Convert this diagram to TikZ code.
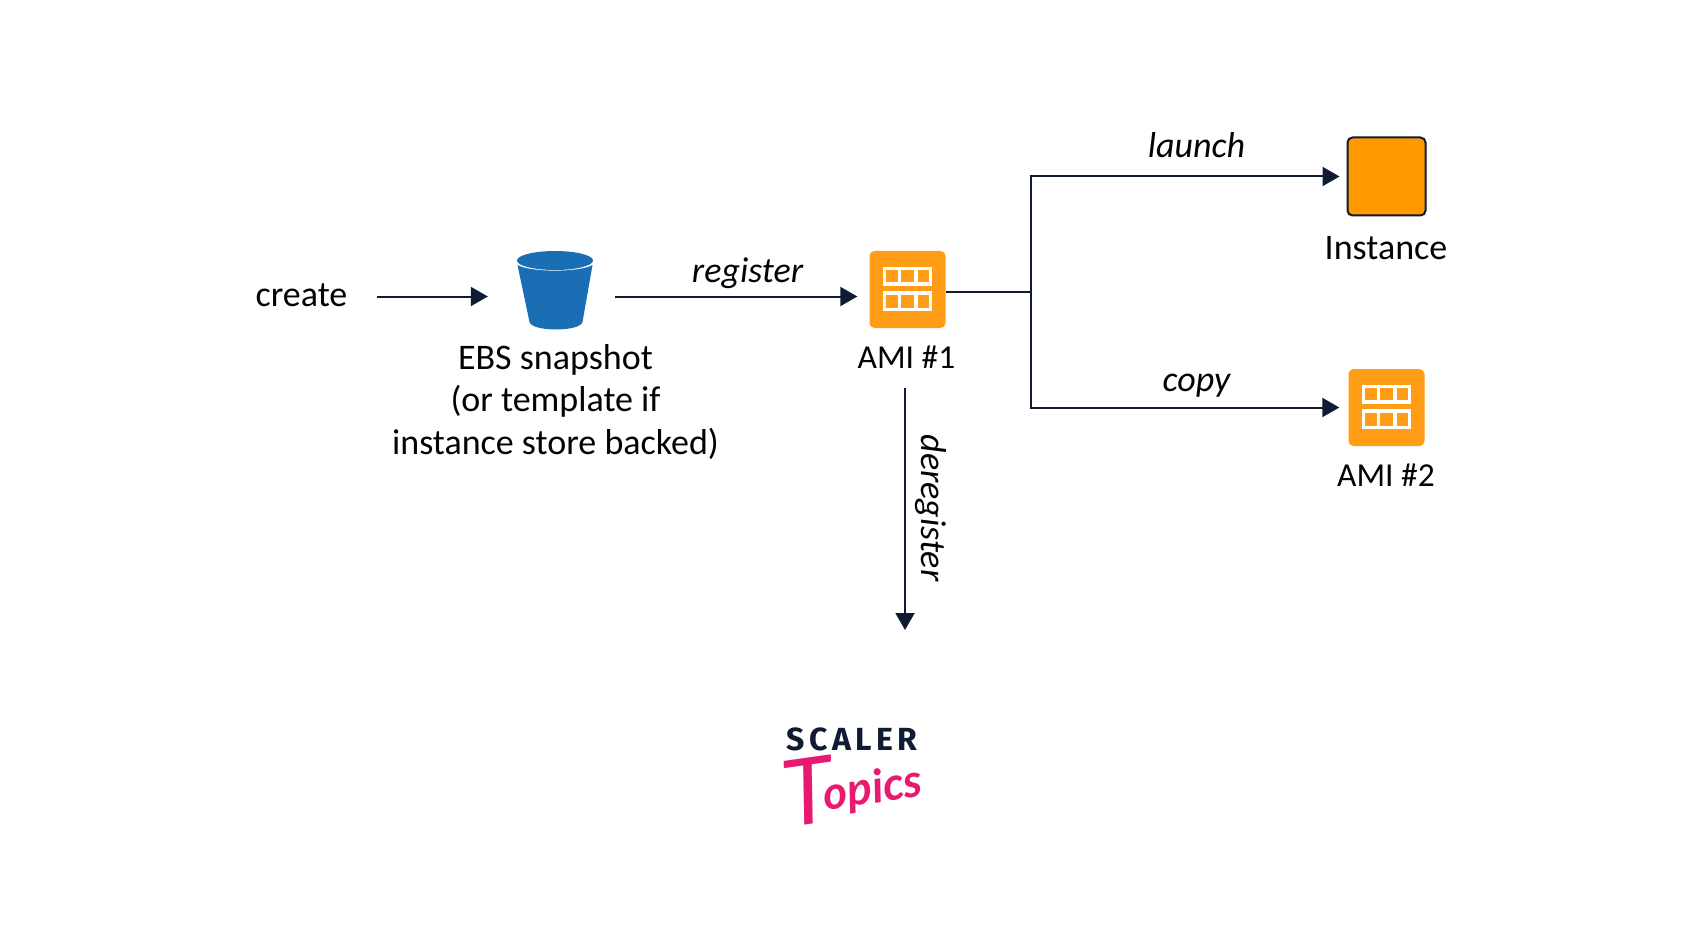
\documentclass[tikz,border=0pt]{standalone}
\usepackage{fontspec}
\setmainfont{Carlito}
\newfontfamily\logofont[LetterSpace=14]{Fira Sans}
\newfontfamily\topicsfont{Lato}
\usetikzlibrary{arrows.meta,calc}
\definecolor{navy}{HTML}{0F1B33}
\definecolor{awsorange}{HTML}{FF9900}
\definecolor{amiorange}{HTML}{FF9E16}
\definecolor{bucketblue}{HTML}{1A6EB4}
\definecolor{pinklogo}{HTML}{E8196F}
\newcommand{\amigrid}[1]{%
  \begin{scope}[shift={(#1)},draw=white,line width=3.2pt]
    \draw (-23,-21) rectangle (23,-5.5);
    \draw (-23,3.5) rectangle (23,20);
    \draw (-8,-21) -- (-8,-5.5) (8.5,-21) -- (8.5,-5.5);
    \draw (-8,3.5) -- (-8,20) (8.5,3.5) -- (8.5,20);
  \end{scope}}
\tikzset{
  conn/.style={draw=navy,line width=2pt},
  arr/.style={conn,-{Triangle[length=17pt,width=19pt]}},
  lbl/.style={anchor=base,inner sep=0pt,font=\fontsize{36}{42.5}\selectfont,text=black!90!navy},
  amilbl/.style={lbl,font=\fontsize{33.5}{42.5}\selectfont},
  act/.style={lbl,font=\fontsize{36}{42.5}\selectfont\itshape},
  ami/.style={fill=amiorange,rounded corners=5pt,minimum width=76pt,minimum height=77pt,inner sep=0pt},
  ghost/.style={inner sep=0pt,minimum width=76pt,minimum height=78pt}
}
\begin{document}
\begin{tikzpicture}[x=1pt,y=-1pt]
\useasboundingbox (0,0) rectangle (1704,941);
\fill[white] (0,0) rectangle (1704,941);
% rows
\coordinate (rowa) at (0,296.5);
% nodes
\node[lbl] (create) at (301.5,306) {create};
\node[ghost] (bucket) at (555,290) {};
\node[ami] (ami1) at (907.5,289.5) {};
\amigrid{ami1.center}
\node[draw=navy,fill=awsorange,line width=2pt,rounded corners=5pt,minimum size=78pt,inner sep=0pt] (inst) at (1386.5,176.5) {};
\node[ami] (ami2) at (1386.5,407.5) {};
\amigrid{ami2.center}
% bucket
\fill[bucketblue] (517.5,265) .. controls (530,272.5) and (580,272.5) .. (592.5,265)
  -- (582.5,322) .. controls (580,332) and (532,332) .. (529.5,322) -- cycle;
\fill[bucketblue] (555,260.5) ellipse [x radius=38,y radius=9.5];
% labels
\node[lbl] (ebs) at (555.5,369) {EBS snapshot};
\node[lbl] (ebs2) at (555.5,411.5) {(or template if};
\node[lbl] (ebs3) at (555.5,454) {instance store backed)};
\node[amilbl] (ami1l) at (906.5,368.5) {AMI \#1};
\node[lbl] (instl) at (1386,259.5) {Instance};
\node[amilbl] (ami2l) at (1386,486.5) {AMI \#2};
\node[act] (reg) at (747.5,282) {register};
\node[act] (lau) at (1196.5,158) {launch};
\node[act] (cop) at (1196.5,391) {copy};
\node[act,rotate=-90,anchor=base] (der) at (921,508) {deregister};
% connectors
\coordinate (jn) at (1031,291.5);
\coordinate (dstart) at (905,388);
\coordinate (dend) at (905,630);
\draw[arr,shorten <=29pt,shorten >=29pt] (create.east |- rowa) -- (bucket.west |- rowa);
\draw[arr,shorten <=22pt,shorten >=12pt] (bucket.east |- rowa) -- (ami1.west |- rowa);
\draw[conn] (ami1.east |- jn) -- (jn);
\draw[arr,shorten >=7pt] (jn) |- (inst.west);
\draw[arr,shorten >=9pt] (jn) |- (ami2.west);
\draw[arr] (dstart) -- (dend);
% logo
\node[anchor=base,inner sep=0pt,text=navy,font=\logofont\bfseries\fontsize{32}{32}\selectfont] (scaler) at (852,750) {SCALER};
\node[anchor=base,inner sep=0pt,text=pinklogo,rotate=8,font=\topicsfont\itshape\bfseries\fontsize{46}{46}\selectfont] (topics) at (855,806) {\raisebox{-12pt}{\mdseries\fontsize{92}{92}\selectfont T}\kern-10pt opics};
\end{tikzpicture}
\end{document}
